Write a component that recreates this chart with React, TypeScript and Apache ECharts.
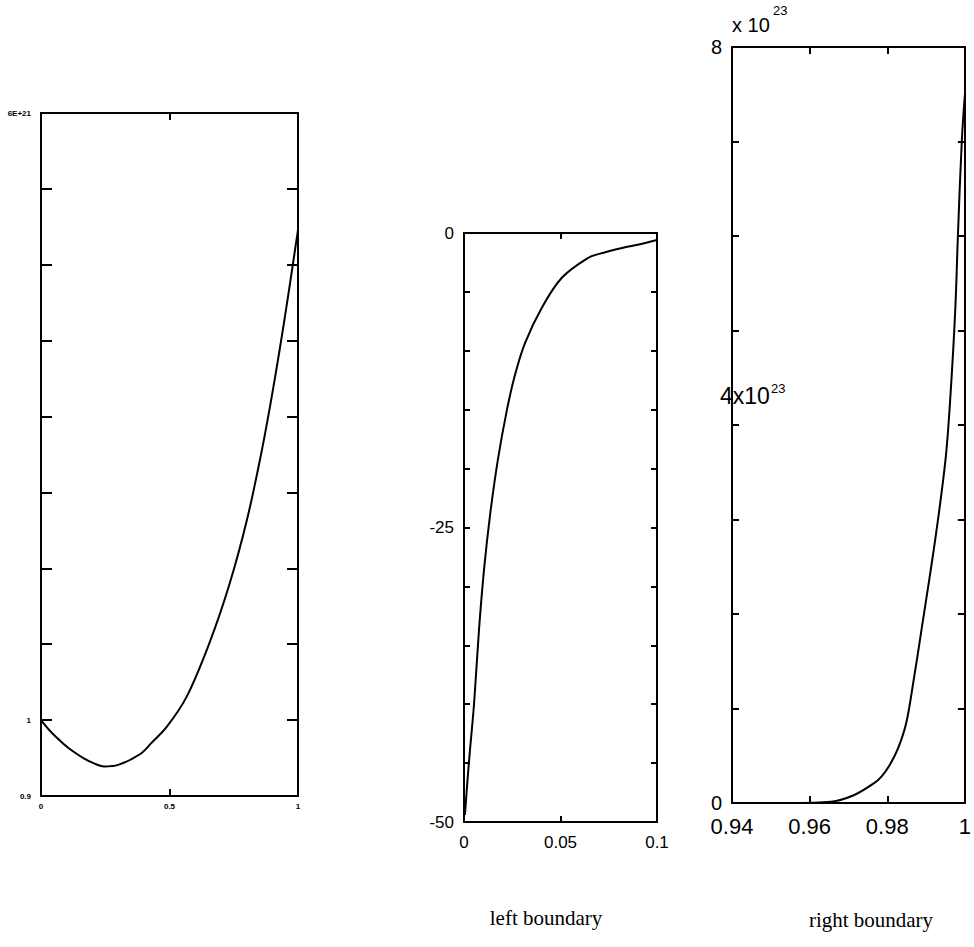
import React, { useEffect, useRef } from "react";
import * as echarts from "echarts";

// Panel 1 (whole domain)
const fullX = [0, 0.04, 0.087, 0.12, 0.165, 0.2, 0.245, 0.3, 0.385, 0.43, 0.489, 0.567, 0.658, 0.735, 0.8, 0.852, 0.891, 0.93, 0.962, 1.0];
const fullY = [1.0, 0.984, 0.969, 0.96, 0.95, 0.944, 0.939, 0.941, 0.955, 0.97, 0.991, 1.031, 1.104, 1.181, 1.262, 1.343, 1.413, 1.491, 1.56, 1.646];
const fullYTicks: Record<string, string> = { "0.9": "0.9", "1": "1", "1.8": "6E+21" };

// Panel 2 (left boundary)
const leftX = [0.0005, 0.0016, 0.0031, 0.0052, 0.0078, 0.0104, 0.0135, 0.0176, 0.0223, 0.0264, 0.0316, 0.0404, 0.0508, 0.0642, 0.0705, 0.0819, 0.0912, 0.1];
const leftY = [-49.4, -46.9, -43.9, -39.98, -33.62, -28.53, -23.94, -19.19, -14.97, -12.05, -9.34, -6.32, -3.78, -2.12, -1.75, -1.27, -0.95, -0.59];

// Panel 3 (right boundary), values in units of 1e23
const rightX = [0.955, 0.9655, 0.9715, 0.9766, 0.9785, 0.9806, 0.9828, 0.9849, 0.9868, 0.9887, 0.9924, 0.995, 0.9962, 0.9975, 0.9982, 0.9992, 1.0];
const rightY = [0, 0.014, 0.085, 0.21, 0.28, 0.4, 0.58, 0.85, 1.3, 1.8, 2.8, 3.63, 4.26, 5.2, 6.0, 7.0, 7.5];

const titles = ["left boundary", "right boundary"];

const black = "#000";
const sans = "Liberation Sans";

function pairs(xs: number[], ys: number[]) {
  return xs.map((x, i) => [x, ys[i]]);
}

function axisBase(gridIndex: number, min: number, max: number, interval: number, position: string, tickLen: number) {
  return {
    gridIndex,
    type: "value",
    min,
    max,
    interval,
    position,
    axisLine: { show: true, onZero: false, lineStyle: { color: black, width: 2 } },
    axisTick: { show: true, inside: true, length: tickLen, lineStyle: { color: black, width: 2 } },
    splitLine: { show: false },
    axisLabel: { show: false },
  };
}

export default function App() {
  const ref = useRef<HTMLDivElement>(null);
  useEffect(() => {
    if (!ref.current) return;
    const chart = echarts.init(ref.current, null, { renderer: "svg" });
    const fmt2 = (v: number) => String(+v.toFixed(2));
    const lineSeries = (xi: number, data: number[][]) => ({
      type: "line",
      xAxisIndex: xi,
      yAxisIndex: xi,
      data,
      symbol: "none",
      smooth: 0.35,
      lineStyle: { color: black, width: 2 },
    });
    const option: any = {
      animation: false,
      backgroundColor: "#fff",
      grid: [
        { left: 41, top: 113, width: 257, height: 683 },
        { left: 464, top: 233, width: 193, height: 589 },
        { left: 732, top: 47, width: 238, height: 756 },
      ],
      xAxis: [
        {
          ...axisBase(0, 0, 1, 0.5, "bottom", 7),
          axisLabel: { show: true, fontSize: 8, fontWeight: "bold", fontFamily: sans, color: black, margin: 6, formatter: (v: number) => fmt2(v), showMinLabel: true, showMaxLabel: true },
        },
        axisBase(0, 0, 1, 0.5, "top", 7),
        {
          ...axisBase(1, 0, 0.1, 0.05, "bottom", 6),
          axisLabel: { show: true, fontSize: 17, fontFamily: sans, color: black, margin: 12, formatter: (v: number) => fmt2(v), showMinLabel: true, showMaxLabel: true },
        },
        axisBase(1, 0, 0.1, 0.05, "top", 6),
        {
          ...axisBase(2, 0.94, 1, 0.02, "bottom", 7),
          axisLabel: { show: true, fontSize: 22, fontFamily: sans, color: black, margin: 12, formatter: (v: number) => fmt2(v), showMinLabel: true, showMaxLabel: true },
        },
        axisBase(2, 0.94, 1, 0.02, "top", 7),
      ],
      yAxis: [
        {
          ...axisBase(0, 0.9, 1.8, 0.1, "left", 11),
          axisLabel: {
            show: true, fontSize: 8, fontWeight: "bold", fontFamily: sans, color: black, margin: 10,
            showMinLabel: true, showMaxLabel: true,
            formatter: (v: number) => fullYTicks[fmt2(v)] ?? "",
          },
        },
        axisBase(0, 0.9, 1.8, 0.1, "right", 11),
        {
          ...axisBase(1, -50, 0, 5, "left", 6),
          axisLabel: {
            show: true, fontSize: 17, fontFamily: sans, color: black, margin: 10,
            showMinLabel: true, showMaxLabel: true,
            formatter: (v: number) => (Math.round(v) % 25 === 0 ? String(Math.round(v)) : ""),
          },
        },
        axisBase(1, -50, 0, 5, "right", 6),
        {
          ...axisBase(2, 0, 8, 1, "left", 7),
          axisLabel: {
            show: true, fontSize: 20, fontFamily: sans, color: black, margin: 10,
            showMinLabel: true, showMaxLabel: true,
            formatter: (v: number) => (v === 0 || v === 8 ? String(v) : ""),
          },
        },
        axisBase(2, 0, 8, 1, "right", 7),
      ],
      title: [
        { text: titles[0], left: 541, top: 902, textAlign: "center", textStyle: { fontFamily: "Liberation Serif", fontSize: 21, fontWeight: "normal", color: black } },
        { text: titles[1], left: 866, top: 904, textAlign: "center", textStyle: { fontFamily: "Liberation Serif", fontSize: 21, fontWeight: "normal", color: black } },
      ],
      graphic: [
        { type: "text", left: 732, top: 15, style: { text: "x 10", fontSize: 20, fontFamily: sans, fill: black } },
        { type: "text", left: 773, top: 4, style: { text: "23", fontSize: 13, fontFamily: sans, fill: black } },
        { type: "text", left: 720, top: 384, style: { text: "4x10", fontSize: 23, fontFamily: sans, fill: black } },
        { type: "text", left: 771, top: 382, style: { text: "23", fontSize: 13, fontFamily: sans, fill: black } },
      ],
      series: [
        lineSeries(0, pairs(fullX, fullY)),
        lineSeries(2, pairs(leftX, leftY)),
        lineSeries(4, pairs(rightX, rightY)),
      ],
    };
    chart.setOption(option);
    return () => chart.dispose();
  }, []);
  return <div ref={ref} style={{ position: "fixed", left: 0, top: 0, width: 974, height: 947, background: "#fff" }} />;
}
